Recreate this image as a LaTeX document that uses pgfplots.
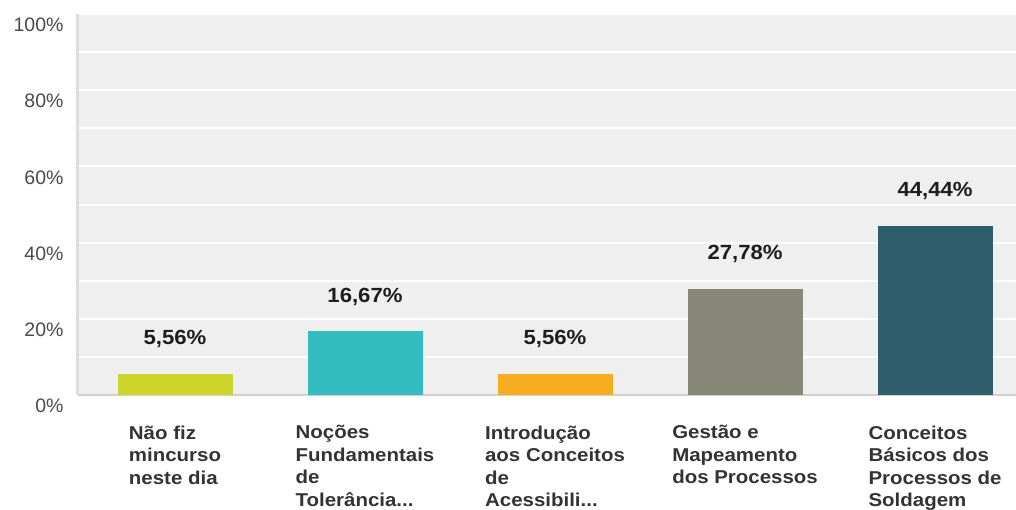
\documentclass[border=0pt]{standalone}
\usepackage{pgfplots}
\pgfplotsset{compat=1.18}
\usepackage{fontspec}
\setmainfont{Liberation Sans}
\newfontfamily\catfont[FakeStretch=1.1]{Liberation Sans}
\newfontfamily\valfont[FakeStretch=1.08]{Liberation Sans}
\definecolor{bgc}{HTML}{EFEFEF}
\definecolor{c1}{HTML}{CED52A}
\definecolor{c2}{HTML}{33BDBF}
\definecolor{c3}{HTML}{F6AE20}
\definecolor{c4}{HTML}{878877}
\definecolor{c5}{HTML}{2E5E6B}
\definecolor{ticktext}{HTML}{4A4A4A}
\definecolor{cattext}{HTML}{333333}
\definecolor{valtext}{HTML}{1E1E1E}
\begin{document}
\begin{tikzpicture}
\useasboundingbox (-78pt,-114pt) rectangle (938pt,395pt);
\begin{axis}[
  at={(0pt,0pt)}, anchor=south west,
  scale only axis, width=938pt, height=381pt,
  xmin=-0.5105, xmax=4.426, ymin=0, ymax=100,
  axis background/.style={fill=bgc},
  axis x line=bottom, axis y line=left,
  x axis line style={-, draw=black!18, line width=1.5pt},
  y axis line style={-, draw=black!13, line width=3pt},
  xtick={0,1,2,3,4},
  xticklabels={{Não fiz\\mincurso\\neste dia},{Noções\\Fundamentais\\de\\Tolerância{.}{.}{.}},{Introdução\\aos Conceitos\\de\\Acessibili{.}{.}{.}},{Gestão e\\Mapeamento\\dos Processos},{Conceitos\\Básicos dos\\Processos de\\Soldagem}},
  xticklabel style={align=left, anchor=north, yshift=-27pt, text=cattext, font=\catfont\bfseries\fontsize{18.6}{22.5}\selectfont},
  ytick={0,20,40,60,80,100},
  yticklabels={0\%,20\%,40\%,60\%,80\%,100\%},
  minor ytick={10,30,50,70,90},
  yticklabel style={anchor=east, xshift=-11pt, yshift=-11pt, text=ticktext, font=\fontsize{19.5}{23}\selectfont},
  major tick length=0pt, minor tick length=0pt,
  ymajorgrids, yminorgrids,
  major grid style={white, line width=2pt},
  minor grid style={white, line width=2pt},
  ybar, bar width=115pt, bar shift=0pt,
  nodes near coords,
  point meta=explicit symbolic,
  nodes near coords style={anchor=center, yshift=35pt, text=valtext, font=\valfont\bfseries\fontsize{20.5}{24}\selectfont},
  /pgf/number format/assume math mode=true,
]
\addplot[fill=c1, draw=none] coordinates {(0,5.56) [5,56\%]};
\addplot[fill=c2, draw=none] coordinates {(1,16.67) [16,67\%]};
\addplot[fill=c3, draw=none] coordinates {(2,5.56) [5,56\%]};
\addplot[fill=c4, draw=none] coordinates {(3,27.78) [27,78\%]};
\addplot[fill=c5, draw=none] coordinates {(4,44.44) [44,44\%]};
\end{axis}
\end{tikzpicture}
\end{document}
